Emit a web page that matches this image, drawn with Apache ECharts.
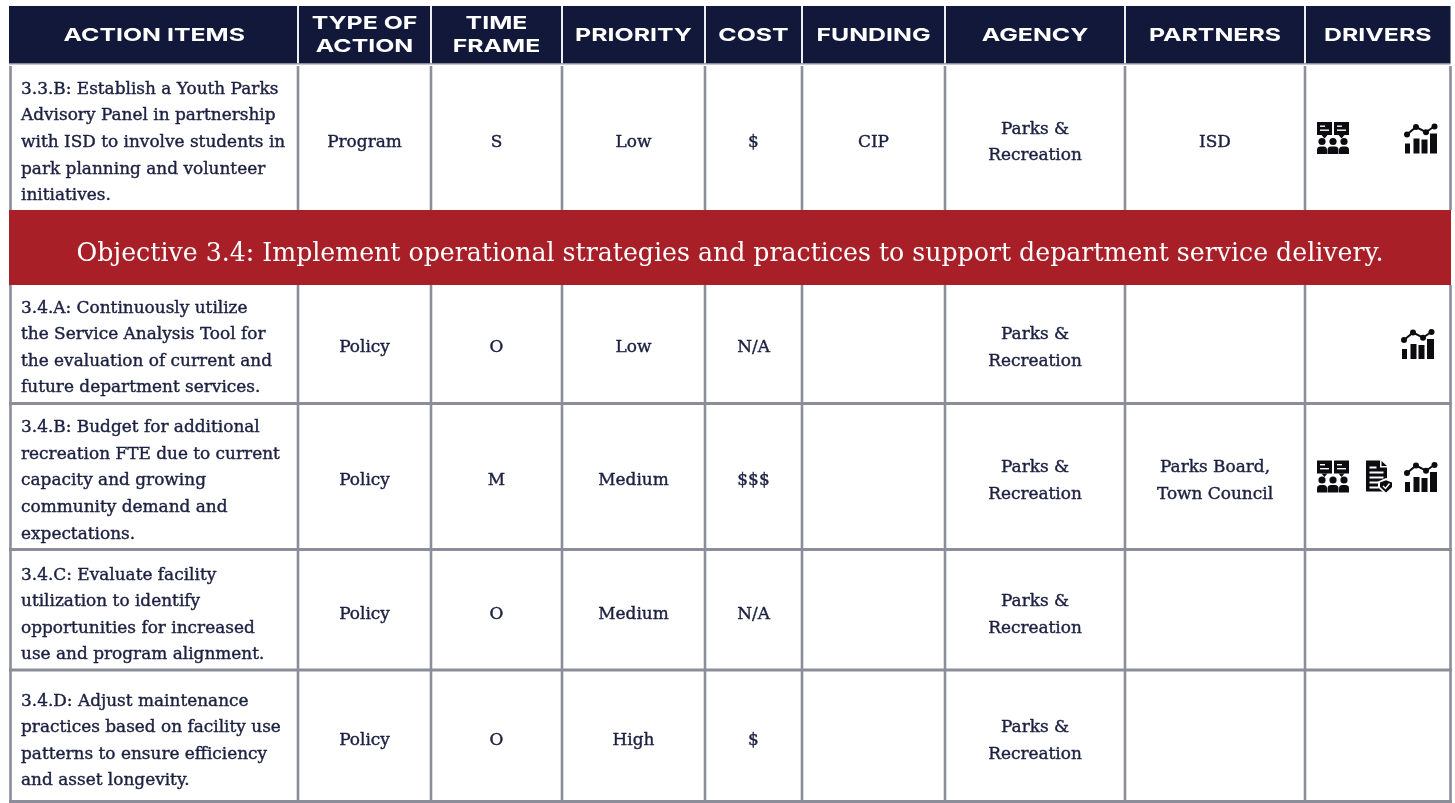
<!DOCTYPE html>
<html><head><meta charset="utf-8">
<style>html,body{margin:0;padding:0;background:#fff}#c{width:1455px;height:803px}</style>
<script src="https://cdn.jsdelivr.net/npm/echarts@6/dist/echarts.min.js"></script></head>
<body><div id="c"></div>
<script>
// ---- data ----
const headers = ['ACTION ITEMS','TYPE OF\nACTION','TIME\nFRAME','PRIORITY','COST','FUNDING','AGENCY','PARTNERS','DRIVERS'];
const actionItems = [
 '3.3.B: Establish a Youth Parks\nAdvisory Panel in partnership\nwith ISD to involve students in\npark planning and volunteer\ninitiatives.',
 '3.4.A: Continuously utilize\nthe Service Analysis Tool for\nthe evaluation of current and\nfuture department services.',
 '3.4.B: Budget for additional\nrecreation FTE due to current\ncapacity and growing\ncommunity demand and\nexpectations.',
 '3.4.C: Evaluate facility\nutilization to identify\nopportunities for increased\nuse and program alignment.',
 '3.4.D: Adjust maintenance\npractices based on facility use\npatterns to ensure efficiency\nand asset longevity.'];
const typeOfAction = ['Program','Policy','Policy','Policy','Policy'];
const timeFrame = ['S','O','M','O','O'];
const priority = ['Low','Low','Medium','Medium','High'];
const cost = ['$','N/A','$$$','N/A','$'];
const funding = ['CIP','','','',''];
const agency = ['Parks &\nRecreation','Parks &\nRecreation','Parks &\nRecreation','Parks &\nRecreation','Parks &\nRecreation'];
const partners = ['ISD','','Parks Board,\nTown Council','',''];
const drivers = [['people','','chart'],['','','chart'],['people','doc','chart'],['','',''],['','','']];
const objective = 'Objective 3.4: Implement operational strategies and practices to support department service delivery.';

// ---- layout ----
const colX = [10.5,298,431,562,705,802,945,1125,1305,1450.5];
const headTop = 6, headBottom = 63.5;
const bandRows = [210,285];
const rowEdges = [[66,210],[285,403.5],[403.5,549.5],[549.5,670],[670,801.5]];
const rowCentre = [141.5,347,480,614,740];
const NAVY = '#12183a', RED = '#a81f27', GRID = '#8b8d99', INK = '#1b2040', ICON = '#0b0b10';
const SERIF = '"DejaVu Serif",serif';
const iconSlots = {people:[1317,-19.5],doc:[1366,-19.5],chart:[1405,-18]};
const chartShift = [0,-3,0,0,0];

function rc(x,y,w,h,f){return {type:'rect',shape:{x,y,width:w,height:h},style:{fill:f||ICON}};}
function ci(x,y,r,f){return {type:'circle',shape:{cx:x,cy:y,r},style:{fill:f||ICON}};}
function pg(pts,f){return {type:'polygon',shape:{points:pts},style:{fill:f||ICON}};}
function pl(pts,w){return {type:'polyline',shape:{points:pts},style:{fill:'none',stroke:ICON,lineWidth:w}};}
function person(cx,w){return [ci(cx,19.5,3.6),
  {type:'rect',shape:{x:cx-w/2,y:24.5,width:w,height:7.5,r:[3.5,3.5,0,0]},style:{fill:ICON}}];}
const iconShapes = {
 people:()=>[
   rc(0,0,15,13),pg([[4.5,13],[10.5,13],[7.5,16.5]]),rc(3,3.5,5,1.4,'#fff'),rc(3,7.5,9,1.4,'#fff'),
   rc(17,0,15,13),pg([[21.5,13],[27.5,13],[24.5,16.5]]),rc(20,3.5,5,1.4,'#fff'),rc(20,7.5,9,1.4,'#fff'),
   ...person(5,10),...person(16,11),...person(27,10)],
 doc:()=>[
   pg([[0,0],[14,0],[14,7],[21,7],[21,31],[0,31]]),pg([[15.5,0.5],[21,5.5],[15.5,5.5]]),
   rc(3.5,6,7,2,'#fff'),rc(3.5,11,14,2,'#fff'),rc(3.5,16,14,2,'#fff'),rc(3.5,21,9,2,'#fff'),rc(3.5,26,9,2,'#fff'),
   pg([[12,21],[20,17.5],[28,21],[28,27],[20,34],[12,27]],'#fff'),
   pg([[14,22],[20,19.8],[26,22],[26,26.5],[20,32],[14,26.5]]),
   pl([[17,25.5],[19.5,28],[23.5,23]],1.4)],
 chart:()=>[
   rc(0,20,5,10),rc(8.5,15,6,15),rc(16.5,16,6,14),rc(25,10,7,20),
   pl([[2,11],[11,3.5],[21,8.7],[29.5,2.7]],2),
   ci(2,11,3),ci(11,3.5,3),ci(21,8.7,3),ci(29.5,2.9,3)]
};
function iconChildren(n){
  const list=iconShapes[n]();
  list.forEach(e=>{ if(e.type==='polyline'&&n==='doc') e.style.stroke='#fff'; });
  return list;
}

function px(api,x,y){return api.coord([x,y]);}
function text(api,str,x,y,o){
  const p=px(api,x,y);
  return {type:'text',x:p[0],y:p[1],scaleX:o.sx||1,silent:true,style:{text:str,fill:o.fill,fontFamily:o.family||SERIF,
    fontSize:o.size,fontWeight:o.weight||'normal',align:o.align||'center',verticalAlign:'middle',lineHeight:o.lh,
    stroke:o.stroke||null,lineWidth:o.sw||0}};
}
function rect(api,x0,y0,x1,y1,fill){
  const a=px(api,x0,y0),b=px(api,x1,y1);
  return {type:'rect',shape:{x:a[0],y:a[1],width:b[0]-a[0],height:b[1]-a[1]},style:{fill}};
}
function icon(api,name,i){
  const s=iconSlots[name],p=px(api,s[0]+(name==='chart'?chartShift[i]:0),rowCentre[i]+s[1]);
  return {type:'group',x:p[0],y:p[1],children:iconChildren(name)};
}
function renderRow(params,api){
  const kind=api.value(0), i=api.value(1), c=[];
  if(kind===0){
    c.push(rect(api,9,headTop,1450.5,headBottom,NAVY));
    for(let k=1;k<colX.length-1;k++) c.push(rect(api,colX[k]-1,headTop,colX[k]+1,headBottom,'#eeeef2'));
    c.push(rect(api,9,headBottom,1450.5,headBottom+1,GRID));
    headers.forEach((h,k)=>{
      c.push(text(api,h,(colX[k]+colX[k+1])/2,35.5,{fill:'#fff',family:'Inter',size:18,weight:700,lh:23,sx:1.38}));
    });
  } else if(kind===1){
    c.push(rect(api,9,bandRows[0],1451,bandRows[1],RED));
    c.push(text(api,objective,730,254,{fill:'#fff',size:26,lh:34,sx:0.97}));
  } else {
    const e=rowEdges[i], cy=rowCentre[i];
    colX.forEach(x=>{c.push(rect(api,x-1.3,e[0],x+1.3,e[1],GRID));});
    if(i>0) c.push(rect(api,9,e[1]-1.4,1452,e[1]+1.4,GRID));
    const base={fill:INK,size:17,lh:26.6,sx:0.995,stroke:INK,sw:0.4};
    c.push(text(api,actionItems[i],21,cy+1,Object.assign({},base,{align:'left'})));
    const cols=[typeOfAction,timeFrame,priority,cost,funding,agency,partners];
    cols.forEach((col,k)=>{ if(col[i]) c.push(text(api,col[i],(colX[k+1]+colX[k+2])/2,cy+1,base)); });
    drivers[i].forEach(n=>{ if(n) c.push(icon(api,n,i)); });
  }
  return {type:'group',children:c};
}
const marks=[[0,0],[2,0],[1,0],[2,1],[2,2],[2,3],[2,4]];
const chart=echarts.init(document.getElementById('c'),null,{renderer:'canvas'});
chart.setOption({animation:false,backgroundColor:'#fff',
  grid:{left:0,right:0,top:0,bottom:0},
  xAxis:{type:'value',min:0,max:1455,show:false},
  yAxis:{type:'value',min:0,max:803,inverse:true,show:false},
  series:[{type:'custom',coordinateSystem:'cartesian2d',renderItem:renderRow,data:marks,clip:false,silent:true}]});
</script></body></html>
